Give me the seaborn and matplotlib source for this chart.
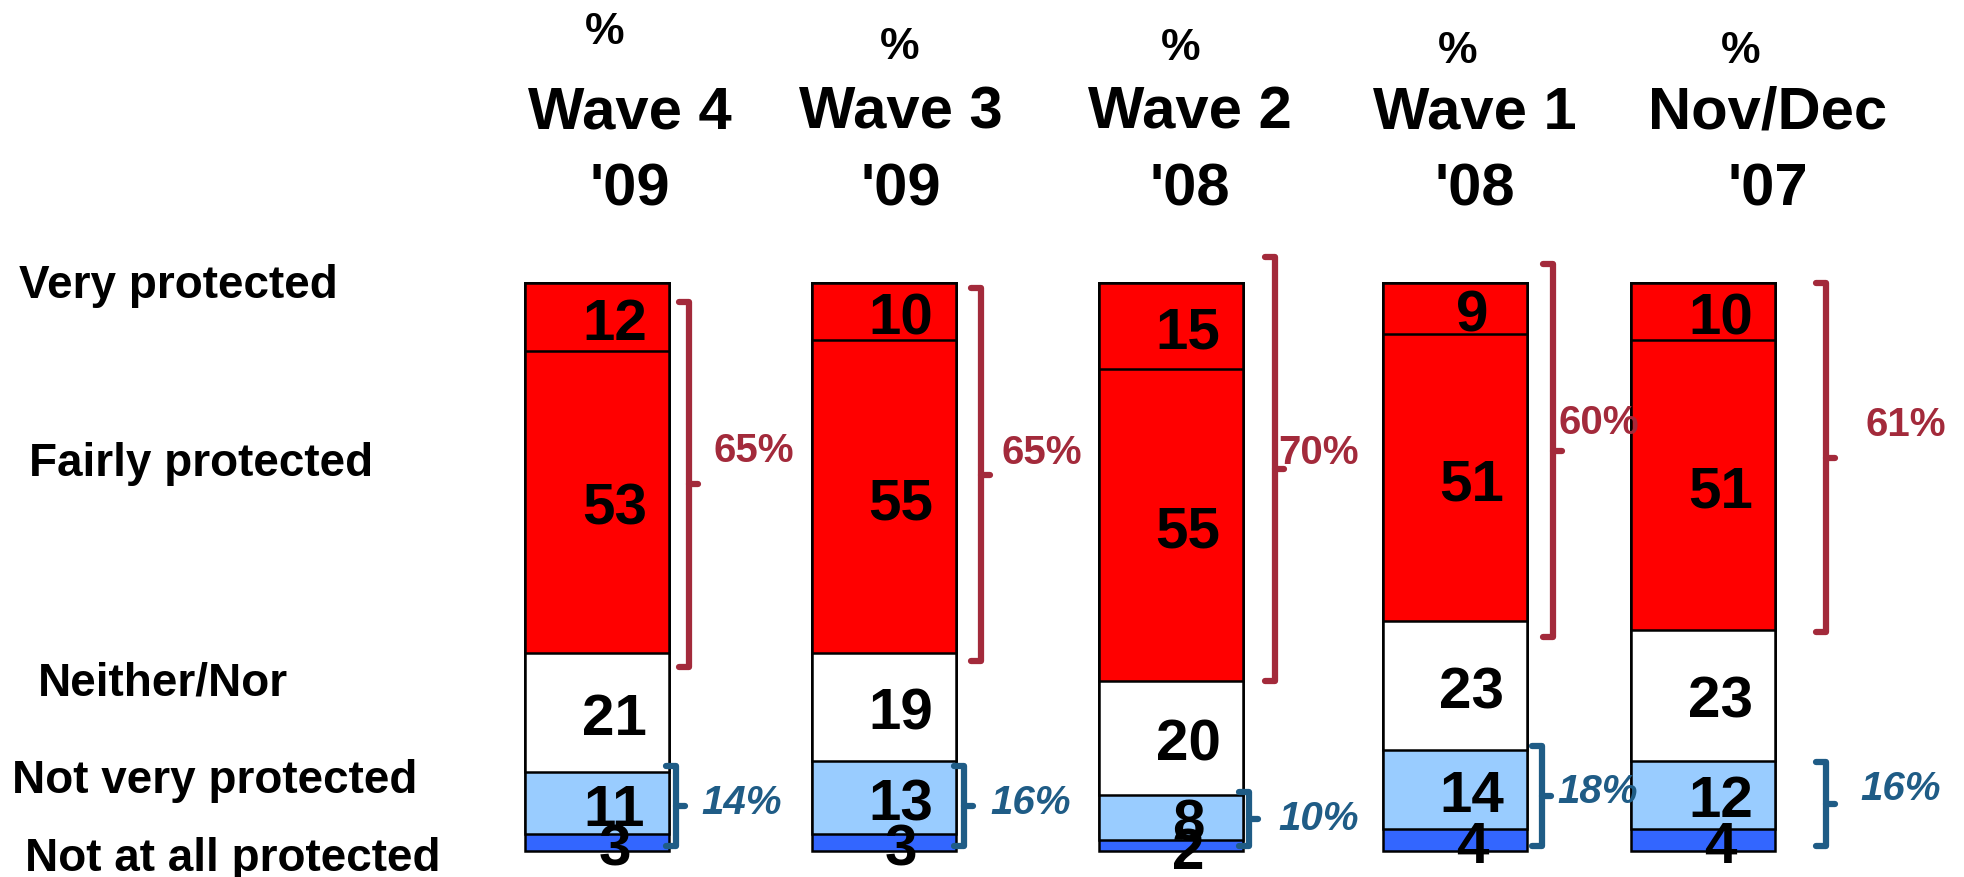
import numpy as np
import pandas as pd
import matplotlib
matplotlib.use("Agg")
import matplotlib.pyplot as plt
import seaborn as sns

# survey waves (left to right)
wave_names = ["Wave 4", "Wave 3", "Wave 2", "Wave 1", "Nov/Dec"]
wave_years = ["'09", "'09", "'08", "'08", "'07"]

# answer categories, top of the bar to bottom
categories = ["Very protected", "Fairly protected", "Neither/Nor",
              "Not very protected", "Not at all protected"]
very = [12, 10, 15, 9, 10]
fairly = [53, 55, 55, 51, 51]
neither = [21, 19, 20, 23, 23]
not_very = [11, 13, 8, 14, 12]
not_at_all = [3, 3, 2, 4, 4]

colors = ["#FF0000", "#FF0000", "#FFFFFF", "#99CCFF", "#3366FF"]
red_txt = "#A32A3B"
blue_txt = "#1F5C86"

# ---- layout (full size pixels) ----
W, H = 1964, 878
TOP_PX, BOT_PX = 284.3, 852.4
PPP = (BOT_PX - TOP_PX) / 100.0


def yp(p):
    return (p - TOP_PX) / PPP


bar_x = [597.5, 884, 1171, 1455, 1703.5]
bar_w = 144
head_x = [630, 901, 1190, 1475, 1768]
pct_x = [605, 900, 1181, 1458, 1741]
pct_y = [33, 48, 49, 52, 52]

red_br_x = [689, 981, 1275, 1553, 1826]
red_top_off = [3.3, 0.9, -4.6, -3.4, 0.0]
red_bot_off = [2.5, 1.5, 0.0, 2.9, 0.4]
red_lab_x = [714, 1002, 1278, 1559, 1866]
red_lab_dy = [-6, -4, -3, -5, -6]

blue_br_x = [676, 964, 1249, 1542, 1826]
blue_top_off = [-1.0, 1.0, -0.5, -0.8, 0.3]
blue_lab_x = [701, 990, 1278, 1557, 1860]
blue_lab_dy = [-0.7, -0.7, -0.15, -0.8, -2.8]

row_x = [19, 29, 38, 12, 25]
row_y = [286, 464, 684, 781, 859]

sns.set_style("white")
plt.rcParams["font.family"] = ["Liberation Sans", "DejaVu Sans"]
plt.rcParams["text.color"] = "black"

series = np.array([very, fairly, neither, not_very, not_at_all], dtype=float)
shares = series / series.sum(axis=0) * 100
cum = np.cumsum(shares, axis=0)

fig = plt.figure(figsize=(W / 100, H / 100), dpi=100)
ax = fig.add_axes([0, 0, 1, 1])

width = bar_w / np.diff(sorted(bar_x)).min()
# draw deepest cumulative first so upper segments sit on top
for k in range(len(categories) - 1, -1, -1):
    df = pd.DataFrame({"x": bar_x, "y": cum[k]})
    sns.barplot(data=df, x="x", y="y", native_scale=True, orient="x",
                color=colors[k], saturation=1, width=width,
                edgecolor="black", linewidth=1.8, errorbar=None, ax=ax)

ax.set_xlim(0, W)
ax.set_ylim(yp(H), yp(0))
ax.axis("off")

# segment numbers
for k in range(len(categories)):
    for i in range(len(bar_x)):
        yc = cum[k, i] - shares[k, i] / 2 + 1.2
        ax.text(bar_x[i] + 17, yc, f"{int(series[k, i])}", ha="center", va="center",
                fontsize=42, fontweight="bold", color="black", zorder=5)


def bracket(x, top, bot, color):
    hook = 10
    ax.plot([x - hook, x, x, x - hook], [top, top, bot, bot], color=color, lw=4.5,
            solid_joinstyle="round", solid_capstyle="round", zorder=6)
    mid = (top + bot) / 2
    ax.plot([x, x + 9], [mid, mid], color=color, lw=4.5,
            solid_capstyle="round", zorder=6)
    return mid


for i in range(len(bar_x)):
    net_p = very[i] + fairly[i]
    top = red_top_off[i]
    bot = cum[1, i] + red_bot_off[i]
    mid = bracket(red_br_x[i], top, bot, red_txt)
    ax.text(red_lab_x[i], mid + red_lab_dy[i], f"{net_p}%", ha="left", va="center",
            fontsize=29, fontweight="bold", color=red_txt, zorder=6)

    net_n = not_very[i] + not_at_all[i]
    top = cum[2, i] + blue_top_off[i]
    bot = 99.0
    mid = bracket(blue_br_x[i], top, bot, blue_txt)
    ax.text(blue_lab_x[i], mid + blue_lab_dy[i], f"{net_n}%", ha="left", va="center",
            fontsize=29, fontweight="bold", fontstyle="italic", color=blue_txt, zorder=6)

# column headers
for i in range(len(bar_x)):
    ax.text(pct_x[i], yp(pct_y[i]), "%", ha="center", va="center",
            fontsize=32, fontweight="bold")
    ax.text(head_x[i], yp(113), wave_names[i], ha="center", va="center",
            fontsize=43, fontweight="bold")
    ax.text(head_x[i], yp(190), wave_years[i], ha="center", va="center",
            fontsize=43, fontweight="bold")

# row labels
for name, x, y in zip(categories, row_x, row_y):
    ax.text(x, yp(y), name, ha="left", va="center", fontsize=33, fontweight="bold")

fig.savefig("out.png", dpi=100)
